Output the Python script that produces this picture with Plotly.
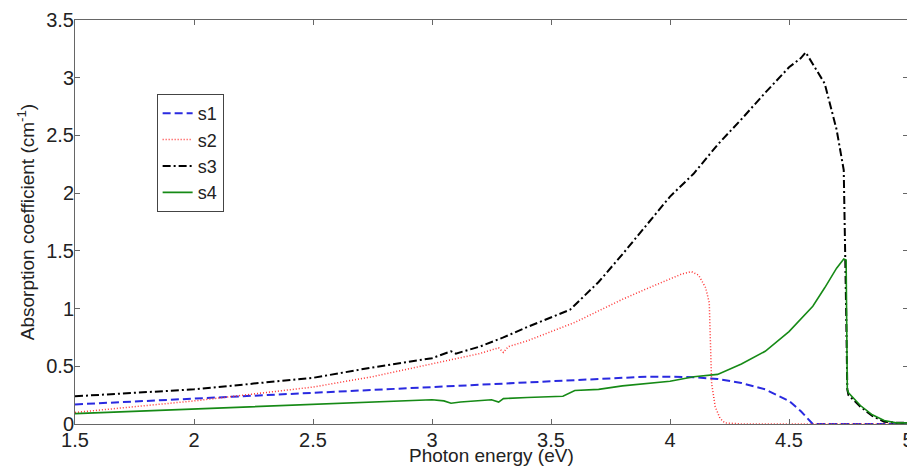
import plotly.graph_objects as go

# photon energy (eV) and absorption coefficient (cm^-1)
s1_x = [1.5, 1.75, 2.0, 2.25, 2.5, 2.75, 3.0, 3.25, 3.5, 3.75, 3.9, 4.0, 4.1, 4.2, 4.3,
        4.4, 4.5, 4.55, 4.6, 5.0]
s1_y = [0.17, 0.195, 0.22, 0.25, 0.275, 0.30, 0.32, 0.345, 0.37, 0.395, 0.41, 0.41, 0.405,
        0.39, 0.355, 0.30, 0.20, 0.11, 0.0, 0.0]

s2_x = [1.5, 1.75, 2.0, 2.25, 2.5, 2.75, 3.0, 3.1, 3.2, 3.28, 3.3, 3.32, 3.4, 3.5, 3.6,
        3.7, 3.8, 3.9, 4.0, 4.05, 4.09, 4.12, 4.15, 4.165, 4.17, 4.175, 4.19, 4.21, 4.23,
        4.3, 5.0]
s2_y = [0.10, 0.15, 0.20, 0.26, 0.32, 0.41, 0.52, 0.57, 0.61, 0.66, 0.62, 0.67, 0.72, 0.80,
        0.88, 0.98, 1.08, 1.17, 1.26, 1.30, 1.32, 1.29, 1.18, 1.05, 0.70, 0.35, 0.15, 0.05,
        0.01, 0.0, 0.0]

s3_x = [1.5, 1.75, 2.0, 2.25, 2.5, 2.75, 3.0, 3.08, 3.1, 3.2, 3.3, 3.4, 3.5, 3.58, 3.7,
        3.8, 3.9, 4.0, 4.1, 4.2, 4.3, 4.4, 4.5, 4.55, 4.57, 4.6, 4.65, 4.7, 4.73, 4.74,
        4.745, 4.75, 4.8, 4.85, 4.9, 4.95, 5.0]
s3_y = [0.24, 0.27, 0.30, 0.35, 0.40, 0.49, 0.57, 0.63, 0.61, 0.67, 0.75, 0.84, 0.92, 0.99,
        1.23, 1.47, 1.72, 1.97, 2.17, 2.42, 2.64, 2.87, 3.09, 3.17, 3.22, 3.12, 2.95, 2.55,
        2.20, 1.00, 0.30, 0.25, 0.15, 0.07, 0.02, 0.01, 0.01]

s4_x = [1.5, 1.75, 2.0, 2.25, 2.5, 2.75, 3.0, 3.05, 3.08, 3.12, 3.2, 3.25, 3.28, 3.3, 3.4,
        3.5, 3.55, 3.6, 3.7, 3.8, 3.9, 4.0, 4.1, 4.2, 4.3, 4.4, 4.5, 4.6, 4.65, 4.7, 4.73,
        4.74, 4.745, 4.75, 4.8, 4.85, 4.9, 4.95, 5.0]
s4_y = [0.09, 0.11, 0.13, 0.15, 0.17, 0.19, 0.21, 0.20, 0.18, 0.19, 0.20, 0.21, 0.19, 0.22,
        0.23, 0.24, 0.24, 0.29, 0.30, 0.33, 0.35, 0.37, 0.41, 0.43, 0.52, 0.63, 0.80, 1.02,
        1.18, 1.35, 1.43, 1.42, 0.30, 0.27, 0.16, 0.08, 0.03, 0.01, 0.01]

x_ticks = [1.5, 2, 2.5, 3, 3.5, 4, 4.5, 5]
x_labels = ["1.5", "2", "2.5", "3", "3.5", "4", "4.5", "5"]
y_ticks = [0, 0.5, 1, 1.5, 2, 2.5, 3, 3.5]
y_labels = ["0", "0.5", "1", "1.5", "2", "2.5", "3", "3.5"]

fig = go.Figure()
fig.add_trace(go.Scatter(x=s1_x, y=s1_y, mode='lines', name='s1',
                         line=dict(color='#2a2ae0', width=2, dash='8px,4px')))
fig.add_trace(go.Scatter(x=s2_x, y=s2_y, mode='lines', name='s2',
                         line=dict(color='#ff3333', width=1.5, dash='1px,2px')))
fig.add_trace(go.Scatter(x=s3_x, y=s3_y, mode='lines', name='s3',
                         line=dict(color='black', width=2, dash='8px,3px,2px,3px')))
fig.add_trace(go.Scatter(x=s4_x, y=s4_y, mode='lines', name='s4',
                         line=dict(color='#168a16', width=1.6)))

axis_style = dict(showline=True, linecolor='#666', linewidth=1, mirror='ticks',
                  ticks='inside', ticklen=5, tickcolor='#666', showgrid=False,
                  zeroline=False, automargin=False, tickfont=dict(size=20, color='#222'))

# the page body has an 8px margin, so the figure is shrunk by that much
fig.update_layout(
    width=907, height=465,
    margin=dict(l=67, r=7, t=12, b=49),
    paper_bgcolor='white', plot_bgcolor='white',
    font=dict(family='Liberation Sans, Arial, sans-serif', color='#222'),
    showlegend=True,
    legend=dict(x=0.098, y=0.817, xanchor='left', yanchor='top',
                bgcolor='white', bordercolor='#444', borderwidth=1,
                font=dict(size=18), itemwidth=30, tracegroupgap=0),
)
fig.update_xaxes(range=[1.5, 5], tickvals=x_ticks, ticktext=x_labels,
                 ticklabelstandoff=-2, **axis_style)
fig.update_yaxes(range=[0, 3.5], tickvals=y_ticks, ticktext=y_labels,
                 ticklabelstandoff=-4,
                 title=dict(text='Absorption coefficient (cm<sup>-1</sup>)', font=dict(size=19),
                            standoff=6),
                 **axis_style)
fig.add_annotation(text='Photon energy (eV)', xref='paper', yref='paper',
                   x=0.5, y=-31 / 404, xanchor='center', yanchor='middle',
                   showarrow=False, font=dict(size=19, color='#222'))

fig.write_html("out.html")
